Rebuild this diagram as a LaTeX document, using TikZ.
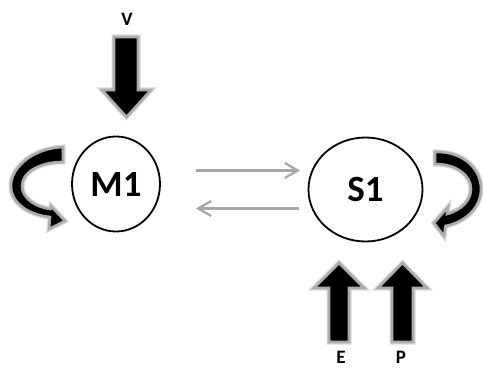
\documentclass[tikz,border=0pt]{standalone}
\usepackage{fontspec}
\setmainfont{Carlito}
\usetikzlibrary{shapes.geometric,arrows.meta}
\begin{document}
\begin{tikzpicture}[x=1pt,y=-1pt,
  state/.style={ellipse,draw=black,line width=1.8pt,inner sep=0pt,
    font=\fontsize{37}{37}\selectfont\bfseries},
  blockarrow/.style={fill=black,draw=gray!65,line width=2.6pt,line join=miter,
    preaction={draw=gray!30,line width=5pt,line join=miter}},
  flow/.style={draw=gray!70,line width=2.2pt,
    -{Straight Barb[length=13pt,width=15pt]}},
  lbl/.style={inner sep=0pt,font=\fontsize{19}{19}\selectfont\bfseries}]
\useasboundingbox (0,0) rectangle (483,369);

% the two compartments
\node[state,minimum width=88pt,minimum height=95pt] (M1) at (116,184) {M1};
\node[state,minimum width=114pt,minimum height=104pt] (S1) at (365.5,189.5) {S1};

% exchange between compartments
\coordinate (mOutA) at (196,170.5);
\coordinate (sInA)  at (300,170.5);
\coordinate (sOutB) at (299,208.5);
\coordinate (mInB)  at (196,208.5);
\draw[flow] (mOutA) -- (sInA);
\draw[flow] (sOutB) -- (mInB);

% input V into M1
\draw[blockarrow] (114,37) -- (138,37) -- (138,90) -- (151,90) -- (126.5,117)
  -- (102,90) -- (114,90) -- cycle;
\node[lbl] (V) at (127,19) {V};

% inputs E and P into S1
\draw[blockarrow] (329,342) -- (349,342) -- (349,288) -- (364,288) -- (339,263)
  -- (314,288) -- (329,288) -- cycle;
\draw[blockarrow] (392,342) -- (413,342) -- (413,288) -- (427,288) -- (402.5,263)
  -- (378,288) -- (392,288) -- cycle;
\node[lbl] (E) at (341,357) {E};
\node[lbl] (P) at (401,357) {P};

% self loop on M1
\draw[blockarrow] (63,147) .. controls (35,148) and (11,166) .. (11,186)
  .. controls (11,204) and (30,215) .. (50,217) -- (49,229) -- (65,221)
  -- (51,206) -- (50.5,209) .. controls (35,207) and (22,198) .. (22,186)
  .. controls (22,172) and (40,162) .. (63,162) -- cycle;

% self loop on S1
\draw[blockarrow] (435,152) .. controls (462,151) and (481,168) .. (481,189)
  .. controls (481,207) and (466,222) .. (445.5,226) -- (444,236) -- (434,223)
  -- (448,207) -- (447,214) .. controls (462,210) and (471,200) .. (471,189)
  .. controls (471,175) and (456,164) .. (435,164) -- cycle;
\end{tikzpicture}
\end{document}
